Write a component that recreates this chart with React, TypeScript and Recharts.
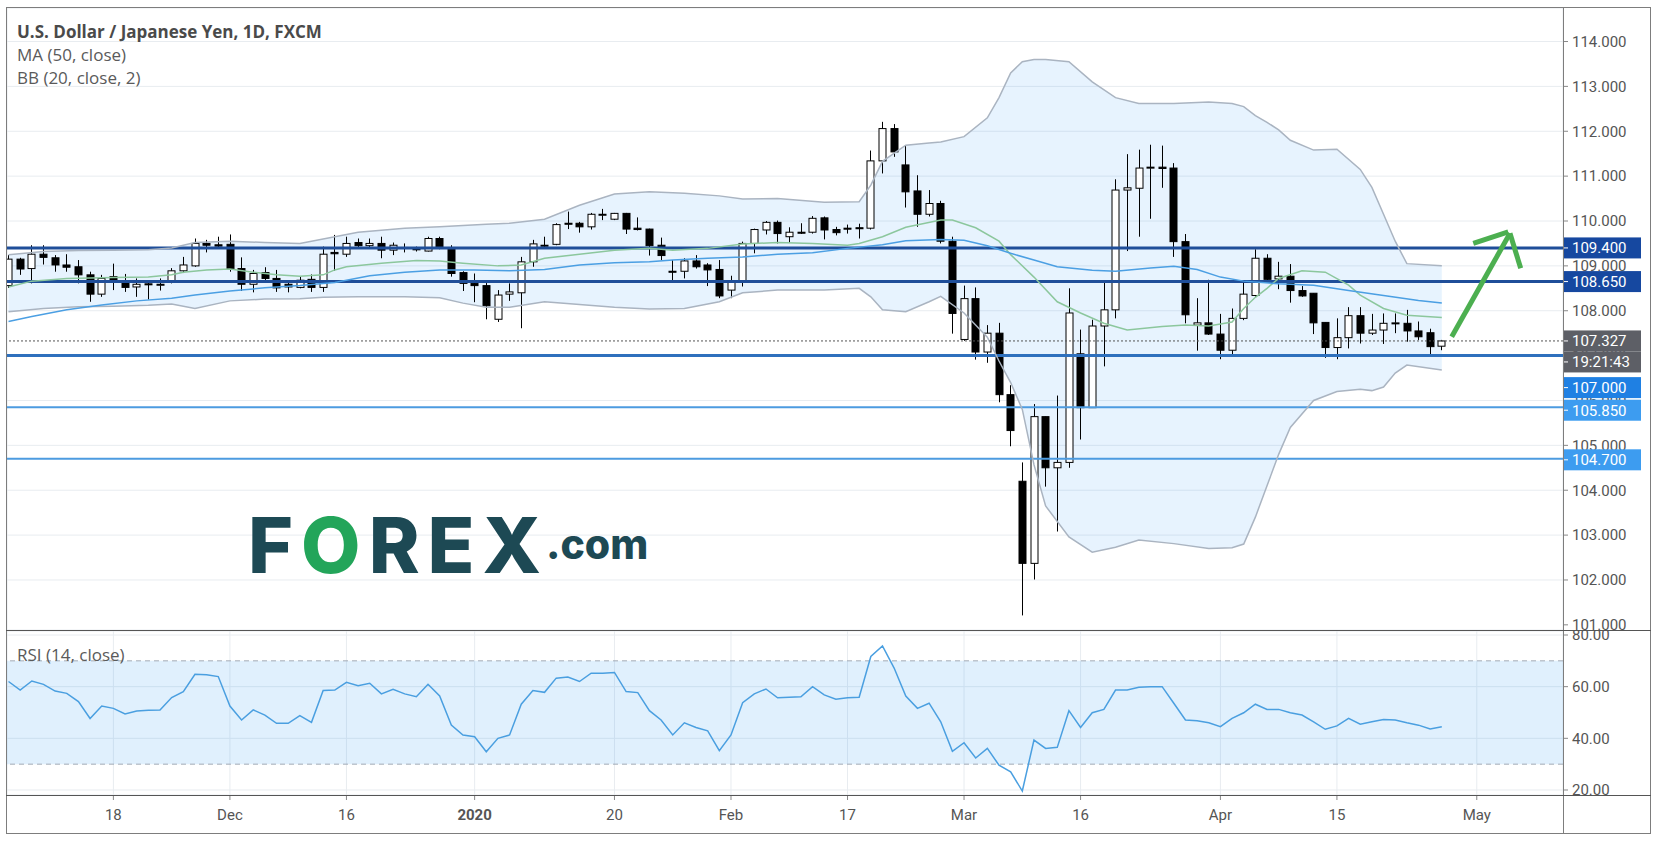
import React from 'react';
import {
  ComposedChart,
  Bar,
  Line,
  Area,
  XAxis,
  YAxis,
  CartesianGrid,
  ReferenceLine,
  ReferenceArea,
} from 'recharts';

// ---------- daily candles (index 0 = 5 Nov 2019 ... 123 = 28 Apr 2020) ----------
const opens = [
  108.56, 109.15, 108.94, 109.26, 109.18, 109.02, 108.98, 108.80, 108.37, 108.76,
  108.65, 108.53, 108.60, 108.58, 108.63, 108.89, 109.00, 109.50, 109.47, 109.48,
  108.94, 108.59, 108.85, 108.72, 108.59, 108.52, 108.70, 108.52, 109.30, 109.26,
  109.52, 109.45, 109.50, 109.35, 109.41, 109.37, 109.33, 109.61, 109.41, 108.85,
  108.61, 108.56, 107.81, 108.37, 108.40, 109.09, 109.46, 109.48, 109.95, 109.95,
  109.87, 110.14, 110.04, 110.17, 109.84, 109.82, 109.46, 108.88, 108.88, 109.11,
  109.02, 108.92, 108.46, 108.65, 109.50, 109.80, 109.97, 109.65, 109.75, 109.75,
  110.07, 109.81, 109.84, 109.85, 109.84, 111.34, 112.06, 111.25, 110.67, 110.15,
  110.39, 109.55, 107.36, 108.27, 107.08, 107.50, 106.13, 104.20, 102.37, 105.64,
  104.50, 104.62, 107.04, 105.84, 107.66, 108.02, 110.69, 110.73, 111.18, 111.20,
  111.18, 109.54, 107.68, 107.73, 107.48, 107.12, 107.83, 108.34, 109.17, 108.71,
  108.77, 108.45, 108.39, 107.74, 107.18, 107.40, 107.89, 107.50, 107.57, 107.71,
  107.72, 107.55, 107.51, 107.21,
];
const highs = [
  109.24, 109.18, 109.46, 109.46, 109.24, 109.26, 109.13, 108.87, 108.80, 109.05,
  108.82, 108.72, 108.68, 108.72, 108.95, 109.20, 109.61, 109.58, 109.65, 109.70,
  109.19, 108.91, 108.97, 108.91, 108.66, 108.76, 108.81, 109.43, 109.69, 109.65,
  109.61, 109.61, 109.65, 109.52, 109.50, 109.43, 109.65, 109.65, 109.46, 108.88,
  108.83, 108.63, 108.46, 108.61, 109.20, 109.58, 109.65, 109.95, 110.21, 109.98,
  110.18, 110.27, 110.18, 110.18, 110.08, 109.83, 109.63, 109.13, 109.17, 109.24,
  109.06, 109.13, 108.78, 109.54, 109.83, 110.00, 110.01, 109.86, 109.95, 110.11,
  110.10, 109.87, 109.92, 109.94, 111.57, 112.21, 112.16, 111.67, 111.02, 110.69,
  110.45, 109.65, 108.56, 108.52, 107.68, 107.73, 106.34, 104.62, 105.92, 105.64,
  106.11, 108.50, 107.58, 107.80, 108.64, 110.93, 111.49, 111.59, 111.70, 111.68,
  111.29, 109.71, 108.28, 108.69, 107.93, 108.05, 108.65, 109.37, 109.26, 109.09,
  109.04, 108.55, 108.39, 107.74, 107.83, 108.08, 108.08, 107.93, 107.94, 107.94,
  108.02, 107.76, 107.60, 107.35,
];
const lows = [
  108.51, 108.80, 108.61, 109.03, 108.87, 108.87, 108.61, 108.20, 108.31, 108.46,
  108.42, 108.31, 108.25, 108.45, 108.61, 108.84, 108.98, 109.30, 109.39, 108.87,
  108.44, 108.41, 108.63, 108.42, 108.41, 108.50, 108.42, 108.42, 108.89, 109.20,
  109.41, 109.39, 109.17, 109.24, 109.30, 109.32, 109.32, 109.37, 108.76, 108.44,
  108.19, 107.81, 107.75, 108.22, 107.61, 108.98, 109.41, 109.46, 109.82, 109.74,
  109.81, 110.02, 110.02, 109.71, 109.79, 109.23, 109.13, 108.68, 108.72, 108.94,
  108.55, 108.28, 108.28, 108.54, 109.28, 109.70, 109.50, 109.52, 109.71, 109.72,
  109.59, 109.68, 109.72, 109.61, 109.81, 111.06, 111.43, 110.30, 109.87, 110.10,
  109.50, 107.49, 107.33, 106.91, 106.84, 105.96, 104.98, 101.21, 102.01, 104.08,
  103.08, 104.50, 105.13, 105.84, 106.76, 107.83, 109.33, 109.65, 110.05, 110.74,
  109.20, 107.72, 107.11, 107.46, 106.92, 106.98, 107.79, 108.31, 108.65, 108.48,
  108.18, 108.31, 107.48, 106.95, 106.92, 107.16, 107.27, 107.46, 107.26, 107.50,
  107.31, 107.35, 106.98, 107.12,
];
const closes = [
  109.15, 108.93, 109.26, 109.19, 109.02, 108.97, 108.80, 108.37, 108.72, 108.65,
  108.52, 108.59, 108.58, 108.59, 108.89, 109.02, 109.50, 109.46, 109.44, 108.93,
  108.59, 108.83, 108.72, 108.51, 108.53, 108.68, 108.52, 109.26, 109.27, 109.50,
  109.45, 109.50, 109.35, 109.46, 109.40, 109.38, 109.61, 109.40, 108.83, 108.61,
  108.56, 108.11, 108.35, 108.42, 109.09, 109.49, 109.45, 109.92, 109.93, 109.87,
  110.15, 110.15, 110.17, 109.82, 109.81, 109.45, 109.23, 108.86, 109.11, 108.98,
  108.91, 108.33, 108.65, 109.50, 109.81, 109.97, 109.72, 109.75, 109.74, 110.06,
  109.80, 109.74, 109.83, 109.84, 111.34, 112.06, 111.54, 110.65, 110.15, 110.39,
  109.55, 107.94, 108.27, 107.08, 107.50, 106.13, 105.33, 102.37, 105.64, 104.50,
  104.62, 107.95, 105.84, 107.66, 108.02, 110.69, 110.74, 111.18, 111.20, 111.17,
  109.54, 107.91, 107.73, 107.48, 107.12, 107.83, 108.37, 109.17, 108.70, 108.77,
  108.45, 108.33, 107.73, 107.18, 107.40, 107.89, 107.50, 107.57, 107.72, 107.73,
  107.55, 107.42, 107.20, 107.327,
];

// ---------- RSI (14, close), one value per candle ----------
const rsiValues = [
  62.0, 58.7, 62.2, 60.9, 58.3, 57.4, 54.2, 47.7, 52.5, 51.6,
  49.4, 50.6, 50.9, 51.0, 55.8, 58.1, 64.8, 64.6, 63.9, 52.5,
  47.1, 51.0, 49.0, 45.8, 45.8, 48.8, 46.2, 58.5, 58.7, 61.7,
  60.4, 61.3, 57.2, 59.0, 57.2, 56.1, 60.9, 56.4, 45.1, 41.3,
  40.6, 34.8, 40.0, 41.3, 53.2, 58.5, 57.8, 63.3, 63.7, 62.0,
  65.2, 65.2, 65.5, 58.1, 57.7, 50.7, 47.1, 41.3, 46.0, 44.2,
  42.9, 35.2, 41.3, 53.8, 57.2, 59.1, 55.7, 55.9, 56.1, 60.0,
  56.8, 55.1, 55.7, 55.9, 71.7, 75.8, 67.2, 56.4, 51.6, 53.6,
  46.4, 35.0, 38.3, 32.4, 36.1, 29.6, 27.0, 19.6, 39.3, 36.1,
  36.5, 50.7, 44.2, 49.9, 51.2, 58.7, 58.7, 59.8, 60.0, 60.0,
  53.6, 47.1, 46.8, 46.0, 44.5, 47.7, 49.9, 53.2, 51.2, 51.2,
  49.9, 49.0, 46.4, 43.5, 44.8, 47.7, 45.5, 46.4, 47.3, 47.1,
  46.0, 45.1, 43.6, 44.5,
];

// ---------- Bollinger bands (20, close, 2), read at these candle indexes ----------
const bbIdx = [
  0, 3, 6, 9, 12, 14, 16, 19, 22, 25,
  27, 30, 34, 37, 39, 41, 43, 46, 49, 52,
  55, 58, 61, 63, 66, 70, 73, 74, 75, 77,
  79, 80, 82, 84, 85, 86, 87, 88, 89, 91,
  93, 95, 97, 100, 103, 105, 106, 107, 108, 109,
  110, 112, 114, 116, 117, 118, 119, 120, 123,
];
const bbUpper = [
  109.25, 109.32, 109.34, 109.35, 109.36, 109.40, 109.52, 109.55, 109.52, 109.50,
  109.60, 109.75, 109.84, 109.87, 109.90, 109.93, 109.95, 110.04, 110.35, 110.60,
  110.65, 110.62, 110.56, 110.49, 110.50, 110.42, 110.43, 110.80, 111.33, 111.69,
  111.74, 111.76, 111.88, 112.30, 112.75, 113.30, 113.55, 113.60, 113.60, 113.55,
  113.10, 112.75, 112.62, 112.62, 112.65, 112.62, 112.55, 112.35, 112.20, 112.03,
  111.80, 111.58, 111.60, 111.15, 110.75, 110.15, 109.55, 109.05, 109.00,
];
const bbLower = [
  107.98, 108.05, 108.09, 108.10, 108.12, 108.15, 108.05, 108.22, 108.26, 108.27,
  108.30, 108.31, 108.31, 108.29, 108.17, 108.08, 108.08, 108.20, 108.14, 108.08,
  108.04, 108.05, 108.20, 108.40, 108.46, 108.46, 108.50, 108.31, 108.02, 107.98,
  108.20, 108.32, 107.95, 107.41, 106.88, 106.40, 105.80, 104.57, 103.65, 102.96,
  102.62, 102.73, 102.89, 102.81, 102.70, 102.72, 102.80, 103.40, 104.10, 104.80,
  105.40, 106.00, 106.20, 106.25, 106.22, 106.30, 106.61, 106.79, 106.68,
];
const basisIdx = [
  0, 2, 5, 9, 12, 14, 15, 17, 19, 21,
  23, 25, 27, 28, 29, 32, 35, 37, 39, 42,
  44, 46, 49, 52, 55, 57, 60, 63, 66, 69,
  72, 73, 75, 77, 80, 81, 83, 85, 86, 88,
  90, 92, 94, 96, 99, 101, 103, 105, 106, 107,
  108, 109, 111, 113, 115, 116, 118, 120, 123,
];
const basisValues = [
  108.53, 108.66, 108.72, 108.74, 108.75, 108.80, 108.86, 108.91, 108.93, 108.86,
  108.80, 108.77, 108.80, 108.91, 108.98, 109.06, 109.12, 109.11, 109.06, 109.00,
  109.02, 109.17, 109.26, 109.35, 109.39, 109.35, 109.39, 109.49, 109.52, 109.50,
  109.46, 109.50, 109.65, 109.86, 110.02, 110.02, 109.85, 109.55, 109.25, 108.75,
  108.20, 107.95, 107.72, 107.57, 107.65, 107.68, 107.66, 107.75, 108.05, 108.30,
  108.50, 108.72, 108.89, 108.86, 108.57, 108.35, 108.05, 107.90, 107.85,
];
// ---------- MA (50, close) ----------
const ma50Idx = [
  0, 2, 5, 8, 11, 14, 16, 19, 22, 25,
  28, 31, 34, 37, 40, 43, 46, 49, 52, 55,
  57, 60, 63, 66, 69, 72, 75, 77, 80, 82,
  84, 86, 88, 90, 93, 95, 98, 100, 102, 104,
  106, 109, 112, 115, 118, 121, 123,
];
const ma50Values = [
  107.76, 107.87, 108.02, 108.13, 108.22, 108.28, 108.35, 108.44, 108.51, 108.56,
  108.63, 108.78, 108.86, 108.91, 108.91, 108.89, 108.92, 109.02, 109.07, 109.09,
  109.13, 109.17, 109.20, 109.26, 109.29, 109.39, 109.47, 109.56, 109.59, 109.57,
  109.45, 109.28, 109.13, 108.98, 108.90, 108.88, 108.95, 108.99, 108.92, 108.75,
  108.66, 108.60, 108.57, 108.45, 108.34, 108.23, 108.17,
];

// ---------- axes, levels, annotations ----------
const xTickIdx = [9, 19, 29, 40, 52, 62, 72, 82, 92, 104, 114, 126];
const xTickLabels = ['18', 'Dec', '16', '2020', '20', 'Feb', '17', 'Mar', '16', 'Apr', '15', 'May'];
const priceTicks = [101, 102, 103, 104, 105, 106, 107, 108, 109, 110, 111, 112, 113, 114];
const rsiTicks = [20, 40, 60, 80];
const rsiBand = [30, 70];
const levels = [109.4, 108.65, 107.0, 105.85, 104.7];
const lastPrice = 107.327;
const countdown = '19:21:43';
const arrowFrom = [[123.85, 107.42], [125.7, 109.5], [128.85, 109.725]];
const arrowTo = [[128.85, 109.725], [128.7, 109.76], [129.77, 108.945]];

// ---------- styling (not data) ----------
const xDomain: [number, number] = [-0.13, 133.4];
const priceDomain: [number, number] = [100.885, 114.747];
const rsiDomain: [number, number] = [18.06, 81.55];
const levelStroke = ['#1f4e99', '#1f4e99', '#2e70bd', '#4c9be0', '#4c9be0'];
const levelWidth = [3, 3, 3, 2, 2];
const levelBox = ['#1648a0', '#1648a0', '#1f80e3', '#3d9cf0', '#3d9cf0'];
const levelBoxShift = [0, 0, 32, 3, 1];
const FONT = 'Roboto, "Liberation Sans", sans-serif';
const TITLE_FONT = '"Open Sans", "Noto Sans", sans-serif';
const TICK_GAP = 9; // tickSize + tickMargin of the price axis

const candles = opens.map((o, i) => ({
  i,
  open: o,
  high: highs[i],
  low: lows[i],
  close: closes[i],
  range: [lows[i], highs[i]],
}));
const bbData = bbIdx.map((x, k) => ({ i: x, upper: bbUpper[k], lower: bbLower[k], band: [bbLower[k], bbUpper[k]] }));
const basisData = basisIdx.map((x, k) => ({ i: x, v: basisValues[k] }));
const ma50Data = ma50Idx.map((x, k) => ({ i: x, v: ma50Values[k] }));
const rsiData = rsiValues.map((v, i) => ({ i, rsi: v }));
// plain ticks first, then the boxed values so the boxes are painted on top
const axisTicks = [...priceTicks, ...levels, lastPrice];

const Candle = (props: any) => {
  const { x, y, width, height, payload } = props;
  if (x == null || y == null || !payload) return null;
  const { open, high, low, close } = payload;
  const top = Math.min(y, y + height);
  const h = Math.abs(height);
  const k = high - low > 0 ? h / (high - low) : 0;
  const py = (v: number) => top + (high - v) * k;
  const cx = Math.round(x + width / 2) + 0.5;
  const bTop = py(Math.max(open, close));
  const bBot = py(Math.min(open, close));
  const up = close >= open;
  return (
    <g>
      <line x1={cx} x2={cx} y1={top} y2={top + h} stroke="#000" strokeWidth={1} />
      <rect
        x={cx - 3.5}
        y={bTop}
        width={7}
        height={Math.max(1, bBot - bTop)}
        fill={up ? '#ffffff' : '#000000'}
        stroke="#000"
        strokeWidth={1}
      />
    </g>
  );
};

const Box = ({ x0, yc, color, text }: { x0: number; yc: number; color: string; text: string }) => (
  <g>
    <rect x={x0} y={yc - 10.5} width={78} height={21} fill={color} />
    <line x1={x0} x2={x0 + 5} y1={yc} y2={yc} stroke="#fff" strokeWidth={1} />
    <text x={x0 + TICK_GAP} y={yc} dy="0.355em" fill="#fff" fontSize={15} fontFamily={FONT}>
      {text}
    </text>
  </g>
);

const PriceTick = (p: any) => {
  const v = p.payload.value;
  const x0 = p.x - TICK_GAP;
  const y = p.y;
  const li = p.index >= priceTicks.length ? levels.indexOf(v) : -1;
  if (li >= 0) {
    return <Box x0={x0} yc={y + levelBoxShift[li]} color={levelBox[li]} text={v.toFixed(3)} />;
  }
  if (p.index >= priceTicks.length && v === lastPrice) {
    return (
      <g>
        <Box x0={x0} yc={y} color="#5d5f66" text={v.toFixed(3)} />
        <Box x0={x0} yc={y + 21} color="#5d5f66" text={countdown} />
      </g>
    );
  }
  return (
    <text x={p.x} y={y} dy="0.355em" fill="#555" fontSize={15} fontFamily={FONT}>
      {v.toFixed(3)}
    </text>
  );
};

const XTick = (props: any) => {
  const { x, y, payload } = props;
  const idx = xTickIdx.indexOf(payload.value);
  const label = idx >= 0 ? xTickLabels[idx] : '';
  return (
    <text
      x={x}
      y={y}
      dy="0.71em"
      textAnchor="middle"
      fill="#555"
      fontSize={15}
      fontFamily={FONT}
      fontWeight={label === '2020' ? 'bold' : 'normal'}
    >
      {label}
    </text>
  );
};

const line = (style: React.CSSProperties) => (
  <div style={{ position: 'absolute', background: '#7d7d7d', ...style }} />
);

export default function App() {
  return (
    <div
      style={{
        position: 'absolute',
        left: 0,
        top: 0,
        width: 1654,
        height: 845,
        background: '#fff',
        overflow: 'hidden',
        fontFamily: FONT,
      }}
    >
      <div style={{ position: 'absolute', left: 0, top: 0 }}>
        <ComposedChart width={1654} height={630} data={candles} margin={{ top: 8, right: 6, bottom: 0, left: 7 }}>
          <CartesianGrid stroke="#e8ecf0" strokeWidth={1} yAxisId="grid" />
          <XAxis
            type="number"
            dataKey="i"
            domain={xDomain}
            allowDataOverflow
            ticks={xTickIdx}
            height={0}
            tick={false}
            axisLine={false}
            tickLine={false}
          />
          <YAxis yAxisId="grid" hide type="number" domain={priceDomain} allowDataOverflow ticks={priceTicks} />
          <YAxis
            orientation="right"
            type="number"
            domain={priceDomain}
            allowDataOverflow
            ticks={axisTicks}
            interval={0}
            width={85}
            axisLine={false}
            tickLine={{ stroke: '#888' }}
            tickSize={5}
            tickMargin={4}
            tick={(p: any) => <PriceTick {...p} />}
          />
          {levels.map((lv, k) => (
            <ReferenceLine key={'lv' + k} y={lv} stroke={levelStroke[k]} strokeWidth={levelWidth[k]} ifOverflow="visible" />
          ))}
          <Area
            data={bbData}
            dataKey="band"
            type="linear"
            stroke="none"
            fill="#2196f3"
            fillOpacity={0.11}
            isAnimationActive={false}
          />
          <Line data={bbData} dataKey="upper" type="linear" stroke="#aab4c1" strokeWidth={1.5} dot={false} isAnimationActive={false} />
          <Line data={bbData} dataKey="lower" type="linear" stroke="#aab4c1" strokeWidth={1.5} dot={false} isAnimationActive={false} />
          <Line data={basisData} dataKey="v" type="linear" stroke="#8cc79d" strokeWidth={1.5} dot={false} isAnimationActive={false} />
          <Line data={ma50Data} dataKey="v" type="linear" stroke="#4b9fe3" strokeWidth={1.5} dot={false} isAnimationActive={false} />
          <ReferenceLine y={lastPrice} stroke="#555" strokeWidth={1} strokeDasharray="2 2" ifOverflow="visible" />
          <Bar dataKey="range" barSize={7} isAnimationActive={false} shape={(p: any) => <Candle {...p} />} />
          {arrowFrom.map((a, k) => (
            <ReferenceLine
              key={'ar' + k}
              segment={[
                { x: a[0], y: a[1] },
                { x: arrowTo[k][0], y: arrowTo[k][1] },
              ]}
              stroke="#4caf50"
              strokeWidth={5}
              ifOverflow="visible"
            />
          ))}
        </ComposedChart>
      </div>

      <div style={{ position: 'absolute', left: 0, top: 630 }}>
        <ComposedChart width={1654} height={205} data={rsiData} margin={{ top: 1, right: 6, bottom: 2, left: 7 }}>
          <CartesianGrid stroke="#e8ecf0" strokeWidth={1} />
          <ReferenceArea y1={rsiBand[0]} y2={rsiBand[1]} fill="#2196f3" fillOpacity={0.14} stroke="none" ifOverflow="visible" />
          <ReferenceLine y={rsiBand[1]} stroke="#a3abb5" strokeDasharray="5 4" />
          <ReferenceLine y={rsiBand[0]} stroke="#a3abb5" strokeDasharray="5 4" />
          <XAxis
            type="number"
            dataKey="i"
            domain={xDomain}
            allowDataOverflow
            ticks={xTickIdx}
            interval={0}
            height={38}
            axisLine={false}
            tickLine={{ stroke: '#888' }}
            tickSize={5}
            tickMargin={9}
            tick={(p: any) => <XTick {...p} />}
          />
          <YAxis
            orientation="right"
            type="number"
            domain={rsiDomain}
            allowDataOverflow
            ticks={rsiTicks}
            interval={0}
            width={85}
            tickFormatter={(v: number) => v.toFixed(2)}
            axisLine={false}
            tickLine={{ stroke: '#888' }}
            tickSize={5}
            tickMargin={4}
            tick={{ fill: '#555', fontSize: 15, fontFamily: FONT }}
          />
          <Line dataKey="rsi" type="linear" stroke="#4a9fe0" strokeWidth={1.5} dot={false} isAnimationActive={false} />
        </ComposedChart>
      </div>

      {/* frame */}
      {line({ left: 6, top: 7, width: 1645, height: 1 })}
      {line({ left: 6, top: 833, width: 1645, height: 1 })}
      {line({ left: 6, top: 7, width: 1, height: 827 })}
      {line({ left: 1650, top: 7, width: 1, height: 827 })}
      {line({ left: 1563, top: 7, width: 1, height: 827 })}
      {line({ left: 6, top: 630, width: 1645, height: 1, background: '#555' })}
      {line({ left: 6, top: 795, width: 1645, height: 1, background: '#555' })}

      <svg width={1654} height={845} style={{ position: 'absolute', left: 0, top: 0, pointerEvents: 'none' }}>
        <text x={17} y={38} fontSize={17} fontWeight="bold" fill="#4a4a4a" fontFamily={TITLE_FONT}>
          U.S. Dollar / Japanese Yen, 1D, FXCM
        </text>
        <text x={17} y={61} fontSize={17} fill="#5a5a5a" fontFamily={TITLE_FONT}>
          MA (50, close)
        </text>
        <text x={17} y={84} fontSize={17} fill="#5a5a5a" fontFamily={TITLE_FONT}>
          BB (20, close, 2)
        </text>
        <text x={17} y={661} fontSize={17} fill="#5a5a5a" fontFamily={TITLE_FONT}>
          RSI (14, close)
        </text>
        <text x={248} y={573} fontSize={77} fontWeight={800} fill="#1d4954" fontFamily="Inter, Lato, sans-serif" letterSpacing={8}>
          F<tspan fill="#23a55a">O</tspan>REX
        </text>
        <text x={546} y={559} fontSize={41} fontWeight={800} fill="#1d4954" fontFamily="Inter, Lato, sans-serif">
          .com
        </text>
      </svg>
    </div>
  );
}
